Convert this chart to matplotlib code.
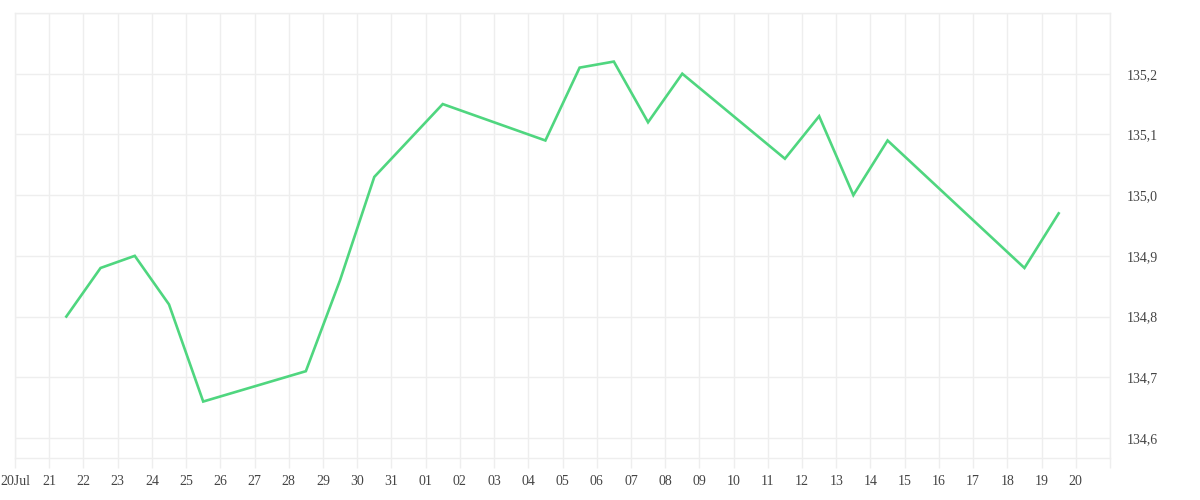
import matplotlib
matplotlib.use("Agg")
import matplotlib.pyplot as plt
import matplotlib.dates as mdates
import datetime as dt

# Data (daily, noon timestamps)
dates = ["2020-07-21", "2020-07-22", "2020-07-23", "2020-07-24", "2020-07-25",
         "2020-07-28", "2020-07-29", "2020-07-30", "2020-08-01", "2020-08-04",
         "2020-08-05", "2020-08-06", "2020-08-07", "2020-08-08", "2020-08-11",
         "2020-08-12", "2020-08-13", "2020-08-14", "2020-08-18", "2020-08-19"]
values = [134.80, 134.88, 134.90, 134.82, 134.66,
          134.71, 134.86, 135.03, 135.15, 135.09,
          135.21, 135.22, 135.12, 135.20, 135.06,
          135.13, 135.00, 135.09, 134.88, 134.97]
y_ticks = [134.6, 134.7, 134.8, 134.9, 135.0, 135.1, 135.2]

x = [dt.datetime.strptime(d, "%Y-%m-%d") + dt.timedelta(hours=12) for d in dates]

fig = plt.figure(figsize=(12, 5), dpi=100)
ax = fig.add_axes([15/1200, 1 - 458/500, (1110 - 15)/1200, (458 - 13)/500])

ax.plot(x, values, color="#4fd67f", lw=1.9, solid_joinstyle="miter", zorder=3)

ax.set_xlim(dt.datetime(2020, 7, 20), dt.datetime(2020, 8, 21))
ax.set_ylim(134.567, 135.3)

ticks = [dt.datetime(2020, 7, 20) + dt.timedelta(days=i) for i in range(33)]
ax.set_xticks(ticks)
labels = []
for i, t in enumerate(ticks):
    if i == 0:
        labels.append("20Jul")
    elif i == 32:
        labels.append("")
    else:
        labels.append(t.strftime("%d"))
ax.set_xticklabels(labels)

ax.yaxis.tick_right()
ax.set_yticks(y_ticks + [135.3])
ax.set_yticklabels([f"{v:.1f}".replace(".", ",") for v in y_ticks] + [""])

ax.grid(True, color="#eeeeee", lw=1, zorder=0)
for s in ax.spines.values():
    s.set_color("#eeeeee")
    s.set_linewidth(1)

ax.tick_params(axis="x", length=7.2, width=1, color="#eeeeee", pad=5,
               labelsize=10, labelcolor="#444444")
ax.tick_params(axis="y", length=0, pad=12, labelsize=10, labelcolor="#444444")
for lab in ax.get_xticklabels() + ax.get_yticklabels():
    lab.set_fontfamily("Liberation Serif")

fig.savefig("out.png", dpi=100, facecolor="white")
